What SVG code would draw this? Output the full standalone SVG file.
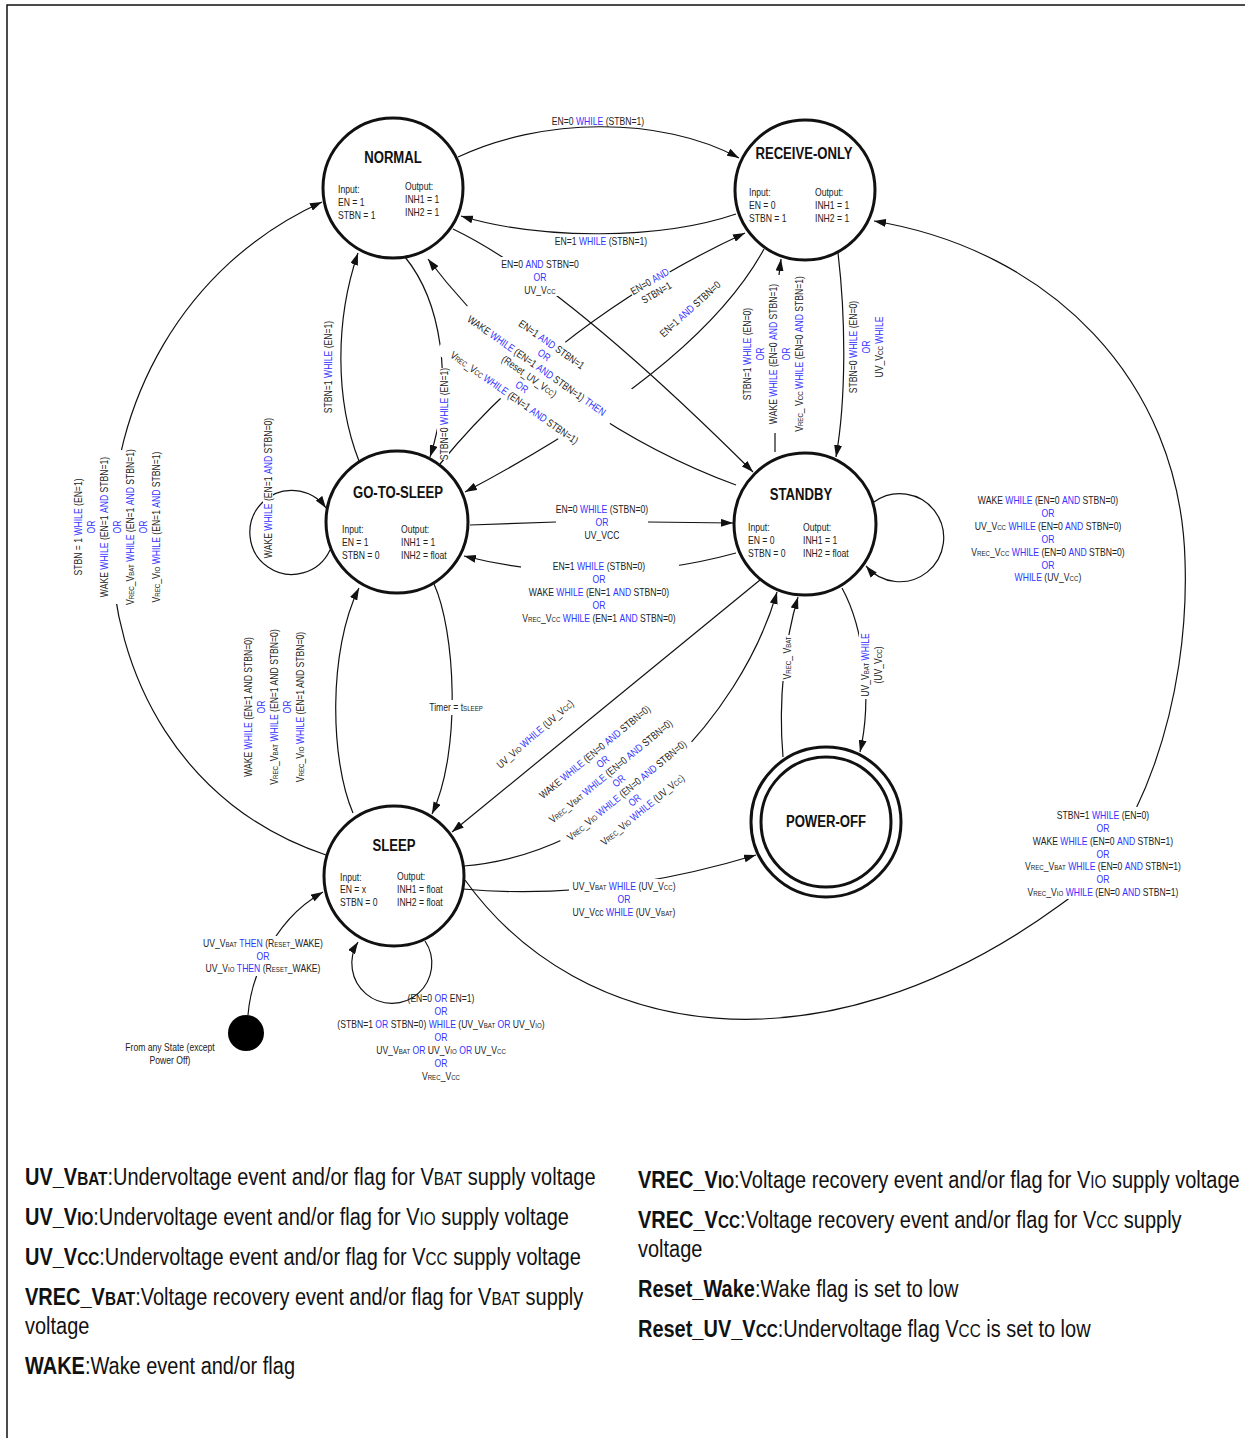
<svg xmlns="http://www.w3.org/2000/svg" width="1245" height="1438" viewBox="0 0 1245 1438">
<defs>
<style>
text{font-family:"Liberation Sans Narrow","Arial Narrow","Liberation Sans",Arial,sans-serif;fill:#222;transform-box:fill-box;transform-origin:center;transform:scaleX(0.82)}
.l{font-size:10.5px;text-anchor:middle}
.n{font-size:10.5px;transform-origin:left center}
.k{fill:#3333ff}
.s{font-size:7.5px}
.t{font-size:16px;font-weight:bold;text-anchor:middle;fill:#111}
.g{font-size:23.5px;fill:#111;transform-origin:left center;transform:scaleX(0.85)}
.b{font-weight:bold}
.sc{font-size:18px}
.c{fill:none;stroke:#111;stroke-width:1.2}
.a{marker-end:url(#ah)}
.node{fill:#fff;stroke:#111;stroke-width:3}
.bg{fill:#fff}
</style>
<marker id="ah" viewBox="0 0 12 8" refX="12" refY="4" markerWidth="12" markerHeight="8" orient="auto" markerUnits="userSpaceOnUse"><path d="M0,0 L12,4 L0,8 z" fill="#111"/></marker>
</defs>
<rect width="1245" height="1438" fill="#fff"/>
<path d="M7,1438 L7,5 L1245,5" fill="none" stroke="#111" stroke-width="1.5"/>

<g id="connectors" class="c">
<path class="a" d="M458,157 C540,118 660,115 739,158"/>
<path class="a" d="M736,214 C660,240 540,240 461,216"/>
<path class="a" d="M453,229 Q560,280 753,472"/>
<path class="a" d="M359,461 C335,400 335,320 358,253"/>
<path class="a" d="M405,257 C440,300 455,380 430,457"/>
<path class="a" d="M736,485 C640,450 520,380 428,259"/>
<path class="a" d="M440,464 C500,390 600,300 745,233"/>
<path class="a" d="M764,249 C720,330 620,410 465,492"/>
<path d="M775,452 L775,433"/>
<path class="a" d="M779,275 L781,259"/>
<path class="a" d="M838,253 C846,320 846,400 836,457"/>
<path class="a" d="M330,550 A42,42 0 1 1 326,508"/>
<path class="a" d="M874,502 A44,44 0 1 1 866,566"/>
<path d="M470,525 L556,522"/>
<path class="a" d="M648,522 L733,523"/>
<path class="a" d="M736,553 Q600,590 464,556"/>
<path class="a" d="M326,855 C40,760 40,330 322,202"/>
<path class="a" d="M353,813 C330,760 328,650 359,588"/>
<path class="a" d="M434,584 C455,630 462,750 432,814"/>
<path class="a" d="M760,580 L452,832"/>
<path class="a" d="M464,866 C610,855 740,720 777,592"/>
<path class="a" d="M842,588 C865,630 872,700 860,752"/>
<path class="a" d="M783,757 C778,700 785,640 798,597"/>
<path class="a" d="M463,889 C540,896 640,890 756,855"/>
<path class="a" d="M465,880 C580,1040 820,1080 1060,905 C1140,850 1190,700 1185,560 C1180,380 1050,250 874,221"/>
<path class="a" d="M248,1015 C250,990 265,925 323,892"/>
<path class="a" d="M425,941 A40,40 0 1 1 358,942"/>
</g>

<g id="labels">
<text class="l" x="598" y="125">EN=0 <tspan class="k">WHILE</tspan> (STBN=1)</text>
<text class="l" x="601" y="245">EN=1 <tspan class="k">WHILE</tspan> (STBN=1)</text>
<g>
<rect class="bg" x="497" y="257" width="87" height="39"/>
<text class="l" x="540" y="268">EN=0 <tspan class="k">AND</tspan> STBN=0</text>
<text class="l" x="540" y="281"><tspan class="k">OR</tspan></text>
<text class="l" x="540" y="294">UV_V<tspan class="s">CC</tspan></text>
</g>
<g transform="translate(328,367) rotate(-90)"><text class="l" y="3.7">STBN=1 <tspan class="k">WHILE</tspan> (EN=1)</text></g>
<g transform="translate(444,414) rotate(-90)"><rect class="bg" x="-46" y="-7" width="92" height="12"/><text class="l" y="3.7">STBN=0 <tspan class="k">WHILE</tspan> (EN=1)</text></g>
<g transform="translate(533,371) rotate(35)">
<rect class="bg" x="-91" y="-42" width="184" height="83"/>
<text class="l" y="-28.8">EN=1 <tspan class="k">AND</tspan> STBN=1</text>
<text class="l" y="-15.8"><tspan class="k">OR</tspan></text>
<text class="l" y="-2.8">WAKE <tspan class="k">WHILE</tspan> (EN=1 <tspan class="k">AND</tspan> STBN=1) <tspan class="k">THEN</tspan></text>
<text class="l" y="10.2">(Reset_UV_V<tspan class="s">CC</tspan>)</text>
<text class="l" y="23.2"><tspan class="k">OR</tspan></text>
<text class="l" y="36.2">V<tspan class="s">REC</tspan>_V<tspan class="s">CC</tspan> <tspan class="k">WHILE</tspan> (EN=1 <tspan class="k">AND</tspan> STBN=1)</text>
</g>
<g transform="translate(653,287) rotate(-30)"><rect class="bg" x="-22" y="-13" width="44" height="25"/><text class="l" y="-2.8">EN=0 <tspan class="k">AND</tspan></text><text class="l" y="10.2">STBN=1</text></g>
<g transform="translate(690,309) rotate(-42)"><text class="l" y="3.7">EN=1 <tspan class="k">AND</tspan> STBN=0</text></g>
<g transform="translate(773,354) rotate(-90)">
<text class="l" y="-22.3">STBN=1 <tspan class="k">WHILE</tspan> (EN=0)</text>
<text class="l" y="-9.3"><tspan class="k">OR</tspan></text>
<text class="l" y="3.7">WAKE <tspan class="k">WHILE</tspan> (EN=0 <tspan class="k">AND</tspan> STBN=1)</text>
<text class="l" y="16.7"><tspan class="k">OR</tspan></text>
<text class="l" y="29.7">V<tspan class="s">REC</tspan>_ V<tspan class="s">CC</tspan> <tspan class="k">WHILE</tspan> (EN=0 <tspan class="k">AND</tspan> STBN=1)</text>
</g>
<g transform="translate(866,347) rotate(-90)">
<text class="l" y="-9.3">STBN=0 <tspan class="k">WHILE</tspan> (EN=0)</text>
<text class="l" y="3.7"><tspan class="k">OR</tspan></text>
<text class="l" y="16.7">UV_V<tspan class="s">CC</tspan> <tspan class="k">WHILE</tspan></text>
</g>
<g transform="translate(268,488) rotate(-90)"><rect class="bg" x="-72" y="-5" width="144" height="10"/><text class="l" y="3.7">WAKE <tspan class="k">WHILE</tspan> (EN=1 <tspan class="k">AND</tspan> STBN=0)</text></g>
<g transform="translate(117,527) rotate(-90)">
<rect class="bg" x="-77" y="-45" width="154" height="90"/>
<text class="l" y="-35.3">STBN = 1 <tspan class="k">WHILE</tspan> (EN=1)</text>
<text class="l" y="-22.3"><tspan class="k">OR</tspan></text>
<text class="l" y="-9.3">WAKE <tspan class="k">WHILE</tspan> (EN=1 <tspan class="k">AND</tspan> STBN=1)</text>
<text class="l" y="3.7"><tspan class="k">OR</tspan></text>
<text class="l" y="16.7">V<tspan class="s">REC</tspan>_V<tspan class="s">BAT</tspan> <tspan class="k">WHILE</tspan> (EN=1 <tspan class="k">AND</tspan> STBN=1)</text>
<text class="l" y="29.7"><tspan class="k">OR</tspan></text>
<text class="l" y="42.7">V<tspan class="s">REC</tspan>_V<tspan class="s">IO</tspan> <tspan class="k">WHILE</tspan> (EN=1 <tspan class="k">AND</tspan> STBN=1)</text>
</g>
<text class="l" x="602" y="513">EN=0 <tspan class="k">WHILE</tspan> (STBN=0)</text>
<text class="l" x="602" y="526"><tspan class="k">OR</tspan></text>
<text class="l" x="602" y="539">UV_VCC</text>
<g>
<rect class="bg" x="521" y="559" width="158" height="66"/>
<text class="l" x="599" y="570">EN=1 <tspan class="k">WHILE</tspan> (STBN=0)</text>
<text class="l" x="599" y="583"><tspan class="k">OR</tspan></text>
<text class="l" x="599" y="596">WAKE <tspan class="k">WHILE</tspan> (EN=1 <tspan class="k">AND</tspan> STBN=0)</text>
<text class="l" x="599" y="609"><tspan class="k">OR</tspan></text>
<text class="l" x="599" y="622">V<tspan class="s">REC</tspan>_V<tspan class="s">CC</tspan> <tspan class="k">WHILE</tspan> (EN=1 <tspan class="k">AND</tspan> STBN=0)</text>
</g>
<text class="l" x="1048" y="504">WAKE <tspan class="k">WHILE</tspan> (EN=0 <tspan class="k">AND</tspan> STBN=0)</text>
<text class="l" x="1048" y="517"><tspan class="k">OR</tspan></text>
<text class="l" x="1048" y="530">UV_V<tspan class="s">CC</tspan> <tspan class="k">WHILE</tspan> (EN=0 <tspan class="k">AND</tspan> STBN=0)</text>
<text class="l" x="1048" y="543"><tspan class="k">OR</tspan></text>
<text class="l" x="1048" y="556">V<tspan class="s">REC</tspan>_V<tspan class="s">CC</tspan> <tspan class="k">WHILE</tspan> (EN=0 <tspan class="k">AND</tspan> STBN=0)</text>
<text class="l" x="1048" y="569"><tspan class="k">OR</tspan></text>
<text class="l" x="1048" y="581"><tspan class="k">WHILE</tspan> (UV_V<tspan class="s">CC</tspan>)</text>
<g transform="translate(274,707) rotate(-90)">
<text class="l" y="-22.3">WAKE <tspan class="k">WHILE</tspan> (EN=1 AND STBN=0)</text>
<text class="l" y="-9.3"><tspan class="k">OR</tspan></text>
<text class="l" y="3.7">V<tspan class="s">REC</tspan>_V<tspan class="s">BAT</tspan> <tspan class="k">WHILE</tspan> (EN=1 AND STBN=0)</text>
<text class="l" y="16.7"><tspan class="k">OR</tspan></text>
<text class="l" y="29.7">V<tspan class="s">REC</tspan>_V<tspan class="s">IO</tspan> <tspan class="k">WHILE</tspan> (EN=1 AND STBN=0)</text>
</g>
<g><rect class="bg" x="429" y="700" width="55" height="15"/><text class="l" x="456" y="711">Timer = t<tspan class="s">SLEEP</tspan></text></g>
<g transform="translate(535,734) rotate(-41)"><text class="l" y="3.7">UV_V<tspan class="s">IO</tspan> <tspan class="k">WHILE</tspan> (UV_V<tspan class="s">CC</tspan>)</text></g>
<g transform="translate(618,780) rotate(-39.5)">
<rect class="bg" x="-83" y="-45" width="164" height="90"/>
<text class="l" y="-32.8">WAKE <tspan class="k">WHILE</tspan> (EN=0 <tspan class="k">AND</tspan> STBN=0)</text>
<text class="l" y="-20.3"><tspan class="k">OR</tspan></text>
<text class="l" y="-7.8">V<tspan class="s">REC</tspan>_V<tspan class="s">BAT</tspan> <tspan class="k">WHILE</tspan> (EN=0 <tspan class="k">AND</tspan> STBN=0)</text>
<text class="l" y="4.7"><tspan class="k">OR</tspan></text>
<text class="l" y="17.2">V<tspan class="s">REC</tspan>_V<tspan class="s">IO</tspan> <tspan class="k">WHILE</tspan> (EN=0 <tspan class="k">AND</tspan> STBN=0)</text>
<text class="l" y="29.7"><tspan class="k">OR</tspan></text>
<text class="l" y="42.2">V<tspan class="s">REC</tspan>_V<tspan class="s">IO</tspan> <tspan class="k">WHILE</tspan> (UV_V<tspan class="s">CC</tspan>)</text>
</g>
<g transform="translate(872,665) rotate(-90)"><rect class="bg" x="-34" y="-13" width="68" height="26"/><text class="l" y="-2.8">UV_V<tspan class="s">BAT</tspan> <tspan class="k">WHILE</tspan></text><text class="l" y="10.2">(UV_V<tspan class="s">CC</tspan>)</text></g>
<g transform="translate(787,658) rotate(-90)"><rect class="bg" x="-23" y="-7" width="46" height="13"/><text class="l" y="3.7">V<tspan class="s">REC</tspan>_ V<tspan class="s">BAT</tspan></text></g>
<g>
<rect class="bg" x="569" y="879" width="111" height="40"/>
<text class="l" x="624" y="890">UV_V<tspan class="s">BAT</tspan> <tspan class="k">WHILE</tspan> (UV_V<tspan class="s">CC</tspan>)</text>
<text class="l" x="624" y="903"><tspan class="k">OR</tspan></text>
<text class="l" x="624" y="916">UV_Vcc <tspan class="k">WHILE</tspan> (UV_V<tspan class="s">BAT</tspan>)</text>
</g>
<g>
<rect class="bg" x="1021" y="807" width="164" height="92"/>
<text class="l" x="1103" y="819">STBN=1 <tspan class="k">WHILE</tspan> (EN=0)</text>
<text class="l" x="1103" y="832"><tspan class="k">OR</tspan></text>
<text class="l" x="1103" y="845">WAKE <tspan class="k">WHILE</tspan> (EN=0 <tspan class="k">AND</tspan> STBN=1)</text>
<text class="l" x="1103" y="858"><tspan class="k">OR</tspan></text>
<text class="l" x="1103" y="870">V<tspan class="s">REC</tspan>_V<tspan class="s">BAT</tspan> <tspan class="k">WHILE</tspan> (EN=0 <tspan class="k">AND</tspan> STBN=1)</text>
<text class="l" x="1103" y="883"><tspan class="k">OR</tspan></text>
<text class="l" x="1103" y="896">V<tspan class="s">REC</tspan>_V<tspan class="s">IO</tspan> <tspan class="k">WHILE</tspan> (EN=0 <tspan class="k">AND</tspan> STBN=1)</text>
</g>
<g>
<rect class="bg" x="202" y="936" width="124" height="40"/>
<text class="l" x="263" y="947">UV_V<tspan class="s">BAT</tspan> <tspan class="k">THEN</tspan> (R<tspan class="s">ESET</tspan>_WAKE)</text>
<text class="l" x="263" y="960"><tspan class="k">OR</tspan></text>
<text class="l" x="263" y="972">UV_V<tspan class="s">IO</tspan> <tspan class="k">THEN</tspan> (R<tspan class="s">ESET</tspan>_WAKE)</text>
</g>
<text class="l" x="441" y="1002">(EN=0 <tspan class="k">OR</tspan> EN=1)</text>
<text class="l" x="441" y="1015"><tspan class="k">OR</tspan></text>
<text class="l" x="441" y="1028">(STBN=1 <tspan class="k">OR</tspan> STBN=0) <tspan class="k">WHILE</tspan> (UV_V<tspan class="s">BAT</tspan> <tspan class="k">OR</tspan> UV_V<tspan class="s">IO</tspan>)</text>
<text class="l" x="441" y="1041"><tspan class="k">OR</tspan></text>
<text class="l" x="441" y="1054">UV_V<tspan class="s">BAT</tspan> <tspan class="k">OR</tspan> UV_V<tspan class="s">IO</tspan> <tspan class="k">OR</tspan> UV_V<tspan class="s">CC</tspan></text>
<text class="l" x="441" y="1067"><tspan class="k">OR</tspan></text>
<text class="l" x="441" y="1080">V<tspan class="s">REC</tspan>_V<tspan class="s">CC</tspan></text>
<text class="l" x="170" y="1051">From any State (except</text>
<text class="l" x="170" y="1064">Power Off)</text>
</g>

<g id="node-normal">
<circle class="node" cx="393" cy="188" r="70"/>
<text class="t" x="393" y="163">NORMAL</text>
<text class="n" x="338" y="193">Input:</text><text class="n" x="338" y="206">EN = 1</text><text class="n" x="338" y="219">STBN = 1</text>
<text class="n" x="405" y="190">Output:</text><text class="n" x="405" y="203">INH1 = 1</text><text class="n" x="405" y="216">INH2 = 1</text>
</g>
<g id="node-receive-only">
<circle class="node" cx="805" cy="190" r="70"/>
<text class="t" x="804" y="159">RECEIVE-ONLY</text>
<text class="n" x="749" y="196">Input:</text><text class="n" x="749" y="209">EN = 0</text><text class="n" x="749" y="222">STBN = 1</text>
<text class="n" x="815" y="196">Output:</text><text class="n" x="815" y="209">INH1 = 1</text><text class="n" x="815" y="222">INH2 = 1</text>
</g>
<g id="node-go-to-sleep">
<circle class="node" cx="397" cy="522" r="71"/>
<text class="t" x="398" y="498">GO-TO-SLEEP</text>
<text class="n" x="342" y="533">Input:</text><text class="n" x="342" y="546">EN = 1</text><text class="n" x="342" y="559">STBN = 0</text>
<text class="n" x="401" y="533">Output:</text><text class="n" x="401" y="546">INH1 = 1</text><text class="n" x="401" y="559">INH2 = float</text>
</g>
<g id="node-standby">
<circle class="node" cx="805" cy="524" r="71"/>
<text class="t" x="801" y="500">STANDBY</text>
<text class="n" x="748" y="531">Input:</text><text class="n" x="748" y="544">EN = 0</text><text class="n" x="748" y="557">STBN = 0</text>
<text class="n" x="803" y="531">Output:</text><text class="n" x="803" y="544">INH1 = 1</text><text class="n" x="803" y="557">INH2 = float</text>
</g>
<g id="node-sleep">
<circle class="node" cx="394" cy="876" r="70"/>
<text class="t" x="394" y="851">SLEEP</text>
<text class="n" x="340" y="881">Input:</text><text class="n" x="340" y="893">EN = x</text><text class="n" x="340" y="906">STBN = 0</text>
<text class="n" x="397" y="880">Output:</text><text class="n" x="397" y="893">INH1 = float</text><text class="n" x="397" y="906">INH2 = float</text>
</g>
<g id="node-power-off">
<circle class="node" cx="826" cy="822" r="75"/>
<circle class="node" cx="826" cy="822" r="65"/>
<text class="t" x="826" y="827">POWER-OFF</text>
</g>
<g id="node-initial">
<circle cx="246" cy="1033" r="18" fill="#000"/>
</g>

<g id="legend">
<text class="g" x="25" y="1185"><tspan class="b">UV_V<tspan class="sc">BAT</tspan></tspan>:Undervoltage event and/or flag for V<tspan class="sc">BAT</tspan> supply voltage</text>
<text class="g" x="25" y="1225"><tspan class="b">UV_V<tspan class="sc">IO</tspan></tspan>:Undervoltage event and/or flag for V<tspan class="sc">IO</tspan> supply voltage</text>
<text class="g" x="25" y="1265"><tspan class="b">UV_V<tspan class="sc">CC</tspan></tspan>:Undervoltage event and/or flag for V<tspan class="sc">CC</tspan> supply voltage</text>
<text class="g" x="25" y="1305"><tspan class="b">VREC_V<tspan class="sc">BAT</tspan></tspan>:Voltage recovery event and/or flag for V<tspan class="sc">BAT</tspan> supply</text>
<text class="g" x="25" y="1334">voltage</text>
<text class="g" x="25" y="1374"><tspan class="b">WAKE</tspan>:Wake event and/or flag</text>
<text class="g" x="638" y="1188"><tspan class="b">VREC_V<tspan class="sc">IO</tspan></tspan>:Voltage recovery event and/or flag for V<tspan class="sc">IO</tspan> supply voltage</text>
<text class="g" x="638" y="1228"><tspan class="b">VREC_V<tspan class="sc">CC</tspan></tspan>:Voltage recovery event and/or flag for V<tspan class="sc">CC</tspan> supply</text>
<text class="g" x="638" y="1257">voltage</text>
<text class="g" x="638" y="1297"><tspan class="b">Reset_Wake</tspan>:Wake flag is set to low</text>
<text class="g" x="638" y="1337"><tspan class="b">Reset_UV_V<tspan class="sc">CC</tspan></tspan>:Undervoltage flag V<tspan class="sc">CC</tspan> is set to low</text>
</g>
</svg>
